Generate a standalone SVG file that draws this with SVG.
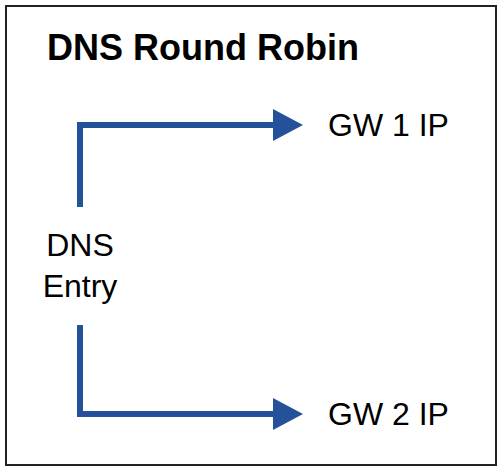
<svg xmlns="http://www.w3.org/2000/svg" width="499" height="468" viewBox="0 0 499 468">
<style>
  .t{font-family:"Liberation Sans",Arial,sans-serif;fill:#000}
  .c{fill:none;stroke:#245199;stroke-width:6}
</style>
<defs>
  <marker id="ah" markerUnits="userSpaceOnUse" markerWidth="30" markerHeight="32" refX="2" refY="16" orient="auto" viewBox="0 0 30 32">
    <path d="M0,0 L30,16 L0,32 Z" fill="#245199"/>
  </marker>
</defs>
<rect x="6" y="6" width="490" height="459" fill="#fff" stroke="#222" stroke-width="2"/>
<g id="title"><text class="t" x="47" y="60" font-size="36" font-weight="bold">DNS Round Robin</text></g>
<g id="dns-entry"><text class="t" x="80" y="256" font-size="32" text-anchor="middle">DNS</text><text class="t" x="80" y="297" font-size="32" text-anchor="middle">Entry</text></g>
<g id="gw1"><text class="t" x="328" y="136" font-size="32">GW 1 IP</text></g>
<g id="gw2"><text class="t" x="328" y="425" font-size="32">GW 2 IP</text></g>
<g id="connectors">
  <path class="c" d="M80,207 V125 H275" marker-end="url(#ah)"/>
  <path class="c" d="M80,325 V414 H275" marker-end="url(#ah)"/>
</g>
</svg>
